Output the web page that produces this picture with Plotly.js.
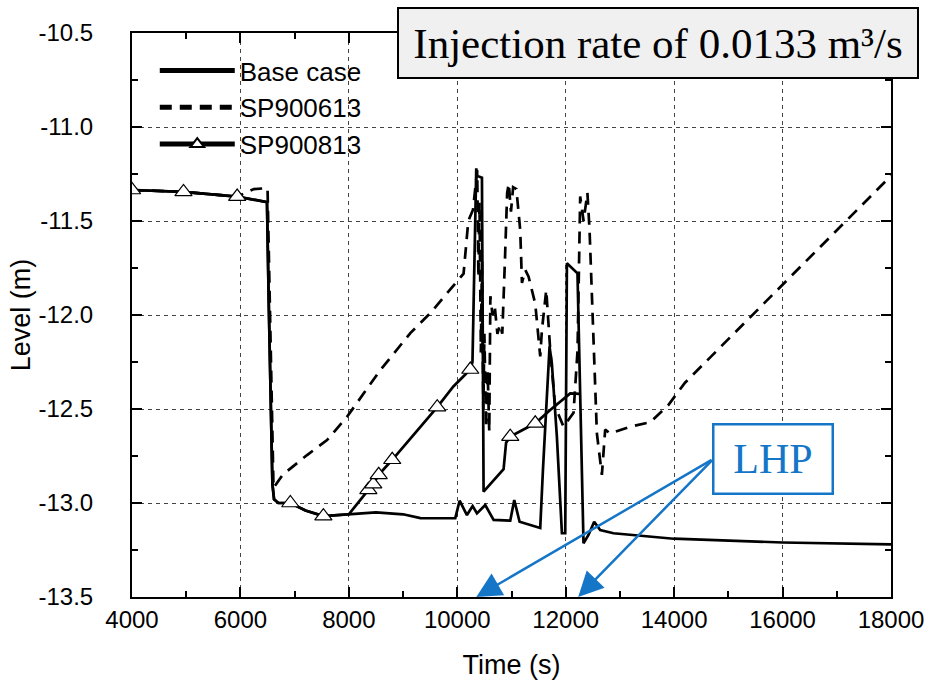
<!DOCTYPE html>
<html>
<head>
<meta charset="utf-8">
<script src="https://cdn.plot.ly/plotly-3.0.1.min.js"></script>
<style>html,body{margin:0;padding:0;background:#fff;}#chart{width:925px;height:680px;}</style>
</head>
<body>
<div id="chart"></div>
<script>
// Time (s) and level (m)
const baseT = [4000, 4950, 5940, 6490, 6520, 6560, 6590, 6620, 6700, 6920, 7200, 7530, 8000, 8500, 9000, 9320, 9687, 9963, 10043, 10178, 10283, 10363, 10516, 10670, 10977, 11051, 11149, 11530, 11580, 11702, 11745, 11837, 11930, 11991, 12022, 12217, 12328, 12420, 12525, 12636, 12881, 13990, 16000, 18000];
const baseV = [-11.335, -11.345, -11.37, -11.40, -11.9, -12.5, -12.9, -12.98, -13.0, -13.0, -13.04, -13.07, -13.06, -13.05, -13.06, -13.08, -13.081, -13.08, -12.988, -13.064, -13.016, -13.055, -13.011, -13.09, -13.094, -12.984, -13.1, -13.133, -12.824, -12.168, -12.26, -12.647, -13.161, -13.161, -11.725, -11.778, -13.214, -13.17, -13.1, -13.144, -13.161, -13.19, -13.21, -13.22];

const sp613T = [4000, 4950, 5940, 6250, 6500, 6530, 6570, 6610, 6778, 7229, 7598, 7967, 8581, 9134, 9502, 9810, 9926, 10116, 10203, 10290, 10367, 10390, 10410, 10435, 10455, 10480, 10500, 10530, 10560, 10590, 10610, 10650, 10690, 10740, 10790, 10830, 10880, 10920, 10950, 10990, 11030, 11090, 11161, 11193, 11254, 11315, 11438, 11530, 11561, 11641, 11714, 11806, 11960, 12144, 12218, 12267, 12330, 12400, 12440, 12483, 12544, 12575, 12667, 12728, 12820, 13189, 13560, 13890, 14200, 18000];
const sp613V = [-11.335, -11.345, -11.37, -11.33, -11.325, -11.8, -12.5, -12.92, -12.85, -12.745, -12.665, -12.541, -12.293, -12.096, -11.99, -11.885, -11.85, -11.78, -11.50, -11.44, -11.23, -11.8, -11.4, -12.2, -11.7, -12.5, -12.1, -12.6, -12.3, -12.62, -11.9, -12.0, -11.95, -12.1, -12.05, -12.1, -11.7, -11.35, -11.3, -11.45, -11.32, -11.33, -11.55, -11.83, -11.76, -11.796, -11.94, -12.22, -12.08, -11.867, -12.186, -12.488, -12.594, -12.52, -12.19, -11.37, -11.5, -11.35, -11.55, -11.92, -12.45, -12.63, -12.85, -12.61, -12.63, -12.594, -12.57, -12.48, -12.36, -11.26];

const sp813T = [4000, 4950, 5940, 6490, 6520, 6560, 6590, 6620, 6700, 6920, 7200, 7530, 8000, 8360, 8450, 8550, 8800, 9630, 9928, 10240, 10280, 10350, 10370, 10455, 10485, 10854, 10900, 10977, 11161, 11438, 11714, 12083, 12265];
const sp813V = [-11.335, -11.345, -11.37, -11.40, -11.9, -12.5, -12.9, -12.98, -13.0, -13.0, -13.04, -13.07, -13.06, -12.93, -12.90, -12.85, -12.77, -12.49, -12.38, -12.29, -12.25, -11.22, -11.26, -11.27, -12.94, -12.82, -12.68, -12.647, -12.62, -12.576, -12.505, -12.417, -12.42];
// 1 = a triangle marker is drawn at this point
const sp813Mark = [1, 1, 1, 0, 0, 0, 0, 0, 0, 1, 0, 1, 0, 1, 1, 1, 1, 1, 0, 1, 0, 0, 0, 0, 0, 0, 0, 1, 0, 1, 0, 0, 0];

const xTicks = [4000, 6000, 8000, 10000, 12000, 14000, 16000, 18000];
const yTicks = [-10.5, -11.0, -11.5, -12.0, -12.5, -13.0, -13.5];
const yTickText = ['-10.5', '-11.0', '-11.5', '-12.0', '-12.5', '-13.0', '-13.5'];
const seriesNames = ['Base case', 'SP900613', 'SP900813'];
const titleText = 'Injection rate of 0.0133 m³/s';
const lhpText = 'LHP';
const lhpTargets = [10350, 12230];

const sans = 'Liberation Sans, Arial, sans-serif';
const serif = 'Liberation Serif, Times New Roman, serif';
const blue = '#1576c8';

const traces = [
  {x: baseT, y: baseV, name: seriesNames[0], mode: 'lines', type: 'scatter',
   line: {color: '#000', width: 2.7}},
  {x: sp613T, y: sp613V, name: seriesNames[1], mode: 'lines', type: 'scatter',
   line: {color: '#000', width: 2.7, dash: '12px,8px'}},
  {x: sp813T, y: sp813V, name: seriesNames[2], mode: 'lines+markers', type: 'scatter',
   line: {color: '#000', width: 2.7},
   marker: {symbol: 'triangle-up', size: sp813Mark.map(m => m ? 15 : 0), color: '#ffffff', opacity: 1,
            line: {color: '#000', width: 1.2}}}
];

const axisCommon = {
  showline: true, linecolor: '#000', linewidth: 2, mirror: 'ticks',
  ticks: 'inside', ticklen: 10, tickwidth: 2, tickcolor: '#000',
  showgrid: true, gridcolor: '#444', gridwidth: 1, griddash: '4px,4px',
  zeroline: false, tickfont: {family: sans, size: 24, color: '#000'}
};

const annotations = [
  {xref: 'paper', yref: 'paper', x: 0.693, y: 0.982, xanchor: 'center', yanchor: 'middle',
   text: titleText, showarrow: false, font: {family: serif, size: 43, color: '#000'},
   bgcolor: '#f0f0f0', bordercolor: '#000', borderwidth: 2, borderpad: 0, width: 518, height: 68},
  {xref: 'x', yref: 'y', x: 15830, y: -12.765, xanchor: 'center', yanchor: 'middle',
   text: lhpText, showarrow: false, font: {family: serif, size: 42, color: blue},
   bgcolor: '#fff', bordercolor: blue, borderwidth: 2.5, borderpad: 0, width: 117, height: 67}
];
lhpTargets.forEach(t => annotations.push({
  xref: 'x', yref: 'y', axref: 'x', ayref: 'y', x: t, y: -13.5, ax: 14720, ay: -12.766,
  text: '', showarrow: true, arrowhead: 2, arrowsize: 2, arrowwidth: 2.5, arrowcolor: blue,
  standoff: 0, startstandoff: 0
}));

const layout = {
  width: 925, height: 680,
  margin: {l: 132, r: 34, t: 33, b: 83},
  paper_bgcolor: '#fff', plot_bgcolor: '#fff',
  showlegend: true,
  legend: {x: 0.03, y: 0.975, xanchor: 'left', yanchor: 'top', bgcolor: 'rgba(0,0,0,0)',
           font: {family: sans, size: 26, color: '#000'}, itemwidth: 75, itemsizing: 'constant',
           tracegroupgap: 0},
  xaxis: Object.assign({}, axisCommon, {
    range: [4000, 18000], tickvals: xTicks, ticktext: xTicks.map(String),
    ticklabelstandoff: 0,
    minor: {dtick: 1000, tick0: 4000, ticks: 'inside', ticklen: 6, tickwidth: 2, tickcolor: '#000', showgrid: false},
    title: {text: 'Time (s)', font: {family: sans, size: 27, color: '#000'}, standoff: 24}
  }),
  yaxis: Object.assign({}, axisCommon, {
    range: [-13.5, -10.5], tickvals: yTicks, ticktext: yTickText,
    ticklabelstandoff: 32,
    minor: {dtick: 0.25, tick0: -13.5, ticks: 'inside', ticklen: 6, tickwidth: 2, tickcolor: '#000', showgrid: false},
    title: {text: 'Level (m)', font: {family: sans, size: 27, color: '#000'}, standoff: 0}
  }),
  annotations: annotations
};

Plotly.newPlot('chart', traces, layout, {displayModeBar: false, staticPlot: true});
</script>
</body>
</html>
